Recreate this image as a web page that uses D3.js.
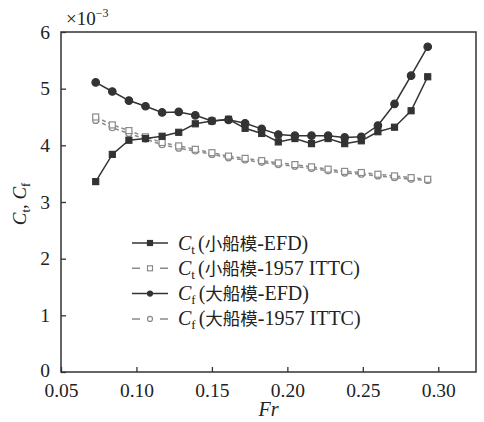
<!DOCTYPE html>
<html>
<head>
<meta charset="utf-8">
<script src="https://cdn.jsdelivr.net/npm/d3@7"></script>
<style>
  body { margin: 0; background: #fff; }
  svg text { font-family: "Liberation Serif", "Times New Roman", "Noto Sans CJK SC", serif; fill: #222; }
  svg .cn { font-family: "Noto Sans CJK SC", sans-serif; }
</style>
</head>
<body>
<div id="chart"></div>
<script>
// Froude numbers
const fr = [0.073, 0.084, 0.095, 0.106, 0.117, 0.128, 0.139, 0.150, 0.161, 0.172, 0.183,
            0.194, 0.205, 0.216, 0.227, 0.238, 0.249, 0.260, 0.271, 0.282, 0.293];

// values x10^-3
const ctSmallEFD  = [3.36, 3.84, 4.09, 4.12, 4.16, 4.23, 4.38, 4.43, 4.46, 4.30, 4.21,
                     4.06, 4.12, 4.03, 4.12, 4.03, 4.08, 4.24, 4.32, 4.61, 5.21];
const ctSmallITTC = [4.50, 4.36, 4.26, 4.15, 4.05, 3.99, 3.93, 3.87, 3.81, 3.77, 3.73,
                     3.69, 3.66, 3.62, 3.58, 3.54, 3.52, 3.49, 3.46, 3.43, 3.40];
const cfLargeEFD  = [5.11, 4.95, 4.79, 4.69, 4.58, 4.59, 4.53, 4.43, 4.45, 4.39, 4.29,
                     4.19, 4.17, 4.17, 4.17, 4.14, 4.15, 4.35, 4.73, 5.23, 5.74];
const cfLargeITTC = [4.44, 4.31, 4.21, 4.11, 4.01, 3.95, 3.90, 3.84, 3.78, 3.74, 3.70,
                     3.66, 3.63, 3.59, 3.55, 3.51, 3.49, 3.46, 3.43, 3.40, 3.38];

const xTicks = [0.05, 0.10, 0.15, 0.20, 0.25, 0.30];
const yTicks = [0, 1, 2, 3, 4, 5, 6];

const legendSubs = ["t", "t", "f", "f"];
const legendCn = ["小船模", "小船模", "大船模", "大船模"];
const legendTail = ["-EFD)", "-1957 ITTC)", "-EFD)", "-1957 ITTC)"];

const width = 484, height = 422;
const margin = { top: 32, right: 8, bottom: 50, left: 61 };

const svg = d3.select("#chart").append("svg")
    .attr("width", width)
    .attr("height", height);

const x = d3.scaleLinear().domain([0.05, 0.325]).range([margin.left, width - margin.right]);
const y = d3.scaleLinear().domain([0, 6]).range([height - margin.bottom, margin.top]);

const dark = "#333";
const grey = "#8a8a8a";

// series setup
const series = [
    { vals: cfLargeITTC, marker: "circle", fill: "#fff", stroke: grey, dash: "4,3", lineColor: grey },
    { vals: ctSmallITTC, marker: "square", fill: "#fff", stroke: grey, dash: "4,3", lineColor: grey },
    { vals: ctSmallEFD,  marker: "square", fill: dark, stroke: dark, dash: null, lineColor: dark },
    { vals: cfLargeEFD,  marker: "circle", fill: dark, stroke: dark, dash: null, lineColor: dark }
];

function drawMarker(g, type, cx, cy, fill, stroke, size) {
    if (type === "square") {
        g.append("rect")
            .attr("x", cx - size / 2).attr("y", cy - size / 2)
            .attr("width", size).attr("height", size)
            .attr("fill", fill).attr("stroke", stroke).attr("stroke-width", 1.2);
    } else {
        g.append("circle")
            .attr("cx", cx).attr("cy", cy).attr("r", size / 2)
            .attr("fill", fill).attr("stroke", stroke).attr("stroke-width", 1.2);
    }
}

const line = d3.line().x((d, i) => x(fr[i])).y(d => y(d));

series.forEach(s => {
    svg.append("path")
        .attr("d", line(s.vals))
        .attr("fill", "none")
        .attr("stroke", s.lineColor)
        .attr("stroke-width", 1.5)
        .attr("stroke-dasharray", s.dash);
    const g = svg.append("g");
    s.vals.forEach((v, i) => {
        const size = s.fill === "#fff" ? 6 : (s.marker === "circle" ? 7.5 : 6);
        drawMarker(g, s.marker, x(fr[i]), y(v), s.fill, s.stroke, size);
    });
});

// frame
svg.append("rect")
    .attr("x", margin.left).attr("y", margin.top)
    .attr("width", width - margin.left - margin.right)
    .attr("height", height - margin.top - margin.bottom)
    .attr("fill", "none").attr("stroke", dark).attr("stroke-width", 1.5);

// axes
const xAxis = svg.append("g")
    .attr("transform", `translate(0,${height - margin.bottom})`)
    .call(d3.axisBottom(x).tickValues(xTicks).tickSizeInner(-5).tickSizeOuter(0)
        .tickFormat(d3.format(".2f")).tickPadding(11));
xAxis.attr("font-family", null);
xAxis.select(".domain").remove();
xAxis.selectAll("line").attr("stroke", dark).attr("stroke-width", 1.3);
xAxis.selectAll("text").attr("font-size", 19.5).attr("fill", "#222");

const yAxis = svg.append("g")
    .attr("transform", `translate(${margin.left},0)`)
    .call(d3.axisLeft(y).tickValues(yTicks).tickSizeInner(-5).tickSizeOuter(0)
        .tickFormat(d3.format("d")).tickPadding(11));
yAxis.attr("font-family", null);
yAxis.select(".domain").remove();
yAxis.selectAll("line").attr("stroke", dark).attr("stroke-width", 1.3);
yAxis.selectAll("text").attr("font-size", 19.5).attr("fill", "#222");
yAxis.selectAll(".tick").filter(d => d === 0).select("text").attr("dy", "0.25em");

// x10^-3
const mult = svg.append("text").attr("x", 66).attr("y", 25).attr("font-size", 19);
mult.append("tspan").text("×10");
mult.append("tspan").attr("dy", -8).attr("font-size", 12).text("−3");

// x label
svg.append("text")
    .attr("x", (margin.left + width - margin.right) / 2)
    .attr("y", 416)
    .attr("text-anchor", "middle")
    .attr("font-size", 20)
    .attr("font-style", "italic")
    .text("Fr");

// y label
const yl = svg.append("text")
    .attr("transform", `translate(26,${(margin.top + height - margin.bottom) / 2 + 2}) rotate(-90)`)
    .attr("text-anchor", "middle")
    .attr("font-size", 19);
yl.append("tspan").attr("font-style", "italic").text("C");
yl.append("tspan").attr("font-size", 12.5).attr("dy", 4).text("t");
yl.append("tspan").attr("dy", -4).text(", ");
yl.append("tspan").attr("font-style", "italic").text("C");
yl.append("tspan").attr("font-size", 12.5).attr("dy", 4).text("f");

// legend
const legendOrder = [series[2], series[1], series[3], series[0]];
const legend = svg.append("g");
legendOrder.forEach((s, i) => {
    const ly = 243 + i * 25.3;
    legend.append("line")
        .attr("x1", 132).attr("x2", 168).attr("y1", ly).attr("y2", ly)
        .attr("stroke", s.lineColor).attr("stroke-width", 1.5)
        .attr("stroke-dasharray", s.dash ? "8,7,6,7,8,0" : null);
    drawMarker(legend, s.marker, 150, ly, s.fill, s.stroke, 5);
    const t = legend.append("text").attr("x", 178).attr("y", ly + 6.5).attr("font-size", 20);
    t.append("tspan").attr("font-style", "italic").text("C");
    t.append("tspan").attr("font-size", 13).attr("dy", 4).text(legendSubs[i]);
    t.append("tspan").attr("dy", -4).attr("dx", 3).text("(");
    t.append("tspan").attr("class", "cn").attr("font-size", 17.5).text(legendCn[i]);
    t.append("tspan").text(legendTail[i]);
});
</script>
</body>
</html>
